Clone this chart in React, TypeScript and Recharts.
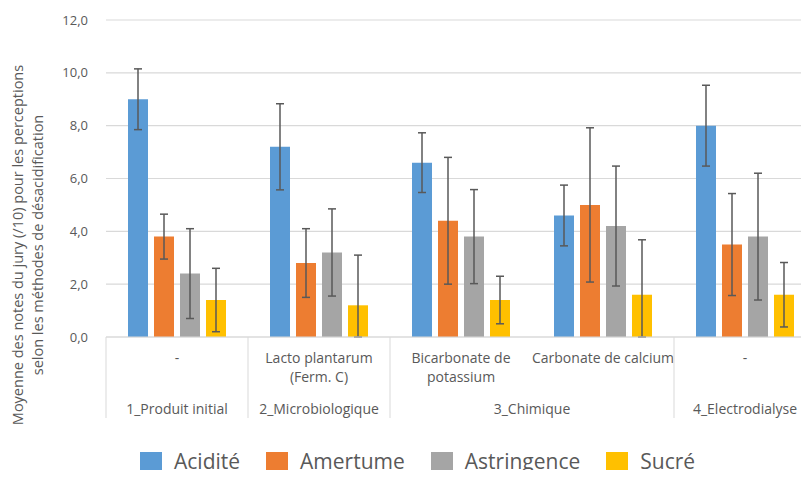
import React from 'react';
import { BarChart, Bar, XAxis, YAxis, CartesianGrid, ErrorBar } from 'recharts';

// categories (two-level axis)
const methods = ['-', 'Lacto plantarum\n(Ferm. C)', 'Bicarbonate de\npotassium', 'Carbonate de calcium', '-'];
const groups = ['1_Produit initial', '2_Microbiologique', '3_Chimique', '3_Chimique', '4_Electrodialyse'];

// mean scores and standard deviations ([minus, plus] where the bar is clipped at 0)
const acidite = [9.0, 7.2, 6.6, 4.6, 8.0];
const aciditeErr = [1.15, 1.63, 1.13, 1.15, 1.53];
const amertume = [3.8, 2.8, 4.4, 5.0, 3.5];
const amertumeErr = [0.85, 1.3, 2.4, 2.92, 1.93];
const astringence = [2.4, 3.2, 3.8, 4.2, 3.8];
const astringenceErr = [1.7, 1.65, 1.78, 2.27, 2.4];
const sucre = [1.4, 1.2, 1.4, 1.6, 1.6];
const sucreErr: [number, number][] = [[1.2, 1.2], [1.2, 1.9], [0.9, 0.9], [1.6, 2.08], [1.22, 1.22]];

const yTicks = [0, 2, 4, 6, 8, 10, 12];

const series = [
  { key: 'acidite', name: 'Acidité', color: '#5B9BD5' },
  { key: 'amertume', name: 'Amertume', color: '#ED7D31' },
  { key: 'astringence', name: 'Astringence', color: '#A5A5A5' },
  { key: 'sucre', name: 'Sucré', color: '#FFC000' },
];

const data = methods.map((m, i) => ({
  method: m,
  group: groups[i],
  acidite: acidite[i],
  aciditeErr: aciditeErr[i],
  amertume: amertume[i],
  amertumeErr: amertumeErr[i],
  astringence: astringence[i],
  astringenceErr: astringenceErr[i],
  sucre: sucre[i],
  sucreErr: sucreErr[i],
}));

const FONT = '"Open Sans", sans-serif';
const TEXT = '#595959';
const LINE = '#D9D9D9';
const AXIS_H = 81;

const CategoryTick = (props: any) => {
  const { x, y, payload } = props;
  const i: number = payload.index ?? props.index;
  const half: number = payload.offset || 71;
  const lines = String(payload.value).split('\n');
  const isGroupStart = i === 0 || groups[i] !== groups[i - 1];
  let span = 1;
  while (i + span < groups.length && groups[i + span] === groups[i]) span++;
  return (
    <g>
      {lines.map((l, k) => (
        <text key={k} x={x} y={y + 26 + k * 19} textAnchor="middle" fill={TEXT} fontSize={14} fontFamily={FONT}>
          {l}
        </text>
      ))}
      {isGroupStart && (
        <>
          <line x1={x - half} x2={x - half} y1={y} y2={y + AXIS_H} stroke={LINE} strokeWidth={1} />
          <text x={x + (span - 1) * half} y={y + 77} textAnchor="middle" fill={TEXT} fontSize={14} fontFamily={FONT}>
            {groups[i]}
          </text>
        </>
      )}
      {i === groups.length - 1 && (
        <line x1={x + half} x2={x + half} y1={y} y2={y + AXIS_H} stroke={LINE} strokeWidth={1} />
      )}
    </g>
  );
};

const YTitle = () => (
  <text transform="translate(0,245) rotate(-90)" textAnchor="middle" fill={TEXT} fontSize={14.5} fontFamily={FONT}>
    <tspan x={0} y={23}>Moyenne des notes du jury (/10) pour les perceptions</tspan>
    <tspan x={0} y={43}>selon les méthodes de désacidification</tspan>
  </text>
);

export default function App() {
  return (
    <div style={{ position: 'relative', width: 809, height: 478, margin: -8, background: '#fff', overflow: 'hidden' }}>
      <BarChart
        width={809}
        height={478}
        data={data}
        margin={{ top: 20, right: -7, left: 0, bottom: 478 - 337 - AXIS_H }}
        barCategoryGap={22}
        barGap={6}
      >
        <CartesianGrid vertical={false} stroke={LINE} strokeWidth={1.2} />
        <XAxis
          dataKey="method"
          interval={0}
          height={AXIS_H}
          tickLine={false}
          tickSize={0}
          tickMargin={0}
          axisLine={{ stroke: LINE, strokeWidth: 1.2 }}
          tick={<CategoryTick />}
        />
        <YAxis
          width={106}
          domain={[0, 12]}
          ticks={yTicks}
          axisLine={false}
          tickLine={false}
          tickSize={0}
          tickMargin={18}
          tickFormatter={(v: number) => v.toFixed(1).replace('.', ',')}
          tick={{ fill: TEXT, fontSize: 13, fontFamily: FONT }}
          label={<YTitle />}
        />
        {series.map((s) => (
          <Bar key={s.key} dataKey={s.key} name={s.name} fill={s.color} isAnimationActive={false}>
            <ErrorBar dataKey={`${s.key}Err`} width={4} stroke="#595959" strokeWidth={1.5} />
          </Bar>
        ))}
      </BarChart>
      <div
        style={{
          position: 'absolute',
          top: 452,
          left: 140,
          display: 'flex',
          alignItems: 'center',
          gap: 26,
          fontFamily: FONT,
          fontSize: 21,
          color: TEXT,
          lineHeight: '22px',
        }}
      >
        {series.map((s) => (
          <div key={s.key} style={{ display: 'flex', alignItems: 'center' }}>
            <span style={{ width: 22, height: 22, background: s.color, display: 'inline-block', marginRight: 12 }} />
            <span style={{ position: 'relative', top: -2 }}>{s.name}</span>
          </div>
        ))}
      </div>
    </div>
  );
}
